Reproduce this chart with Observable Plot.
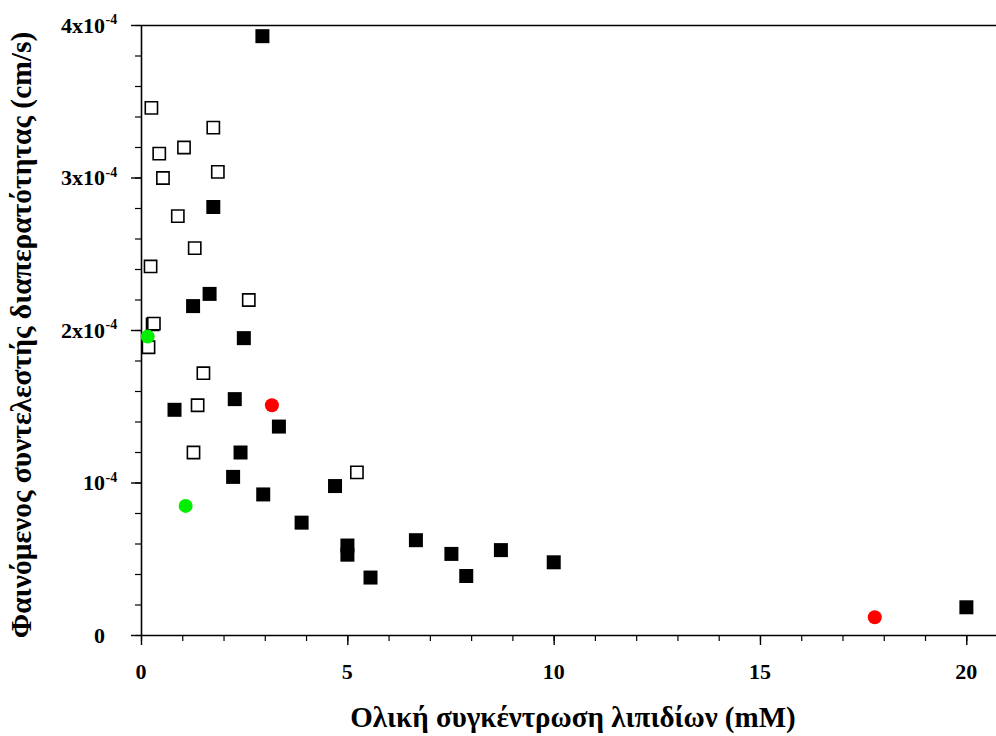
<!DOCTYPE html>
<html>
<head>
<meta charset="utf-8">
<script src="https://cdn.jsdelivr.net/npm/d3@7"></script>
<script src="https://cdn.jsdelivr.net/npm/@observablehq/plot@0.6"></script>
<style>
  html, body { margin: 0; padding: 0; background: #fff; }
  #chart svg { display: block; }
</style>
</head>
<body>
<div id="chart"></div>
<script>
// Filled squares (x: mM, y: cm/s)
const filledX = [2.93, 1.74, 1.65, 1.25, 2.48, 0.80, 2.26, 3.33, 2.40, 2.22, 2.95, 4.69, 3.88, 4.99, 4.99, 5.55, 6.65, 7.51, 7.87, 8.71, 9.99, 19.99];
const filledY = [3.93e-4, 2.81e-4, 2.24e-4, 2.16e-4, 1.95e-4, 1.48e-4, 1.55e-4, 1.37e-4, 1.20e-4, 1.04e-4, 0.925e-4, 0.98e-4, 0.74e-4, 0.59e-4, 0.53e-4, 0.38e-4, 0.625e-4, 0.535e-4, 0.39e-4, 0.56e-4, 0.48e-4, 0.185e-4];
// Open squares
const openX = [0.24, 1.74, 1.03, 0.43, 1.85, 0.52, 0.88, 1.29, 0.22, 2.60, 0.27, 0.30, 0.17, 1.50, 1.36, 1.26, 5.22];
const openY = [3.46e-4, 3.33e-4, 3.20e-4, 3.16e-4, 3.04e-4, 3.00e-4, 2.75e-4, 2.54e-4, 2.42e-4, 2.20e-4, 2.04e-4, 2.045e-4, 1.89e-4, 1.72e-4, 1.51e-4, 1.20e-4, 1.07e-4];
// Green circles
const greenX = [0.15, 1.07];
const greenY = [1.96e-4, 0.85e-4];
// Red circles
const redX = [3.16, 17.77];
const redY = [1.51e-4, 0.12e-4];

const xMajor = [0, 5, 10, 15, 20];
const xMinor = d3.range(0, 21, 1);
const yMajor = [0, 1e-4, 2e-4, 3e-4, 4e-4];
const yMinor = d3.range(0, 21).map(i => i * 0.2e-4);
const yTickBase = ["0", "10", "2x10", "3x10", "4x10"];
const yTickSup = ["", "-4", "-4", "-4", "-4"];
const xTitle = "Ολική συγκέντρωση λιπιδίων (mM)";
const yTitle = "Φαινόμενος συντελεστής διαπερατότητας (cm/s)";

const zip = (xs, ys) => xs.map((x, i) => ({x, y: ys[i]}));
const filled = zip(filledX, filledY);
const open = zip(openX, openY);
const green = zip(greenX, greenY);
const red = zip(redX, redY);

const FONT = "'Liberation Serif', 'Times New Roman', serif";
const W = 996, H = 736, ML = 141, MR = 0, MT = 25, MB = 101;
const PW = W - ML - MR, PH = H - MT - MB;

const chart = Plot.plot({
  width: W,
  height: H,
  marginLeft: ML,
  marginRight: MR,
  marginTop: MT,
  marginBottom: MB,
  style: {fontFamily: FONT, background: "white"},
  x: {domain: [0, 20.72], axis: null},
  y: {domain: [0, 4e-4], axis: null},
  marks: [
    // minor & major ticks (x, below the axis)
    Plot.ruleX(xMinor, {x: d => d, insetTop: PH, insetBottom: -6, stroke: "black", strokeWidth: 1.2}),
    Plot.ruleX(xMajor, {x: d => d, insetTop: PH, insetBottom: -10, stroke: "black", strokeWidth: 1.4}),
    // minor & major ticks (y, left of the axis)
    Plot.ruleY(yMinor, {y: d => d, insetRight: PW, insetLeft: -6, stroke: "black", strokeWidth: 1.2}),
    Plot.ruleY(yMajor, {y: d => d, insetRight: PW, insetLeft: -10, stroke: "black", strokeWidth: 1.4}),
    Plot.ruleY([0], {stroke: "black", strokeWidth: 1.6}),
    Plot.ruleY([4e-4], {stroke: "black", strokeWidth: 1.6}),
    Plot.ruleX([0], {stroke: "black", strokeWidth: 1.6}),
    Plot.dot(open, {x: "x", y: "y", symbol: "square", r: 6.9, fill: "white", stroke: "black", strokeWidth: 1.6}),
    Plot.dot(filled, {x: "x", y: "y", symbol: "square", r: 7.9, fill: "black", stroke: "none"}),
    Plot.dot(green, {x: "x", y: "y", r: 7, fill: "#00ee00", stroke: "none"}),
    Plot.dot(red, {x: "x", y: "y", r: 7, fill: "#ff0000", stroke: "none"})
  ]
});

const svg = d3.select(chart);
const xs = chart.scale("x"), ys = chart.scale("y");

// X tick labels
xMajor.forEach(v => {
  svg.append("text")
    .attr("x", xs.apply(v)).attr("y", 679)
    .attr("text-anchor", "middle")
    .attr("font-family", FONT).attr("font-weight", "bold").attr("font-size", 22)
    .attr("fill", "black")
    .text(String(v));
});

// Y tick labels with superscripts
yMajor.forEach((v, i) => {
  const py = ys.apply(v);
  svg.append("text")
    .attr("x", 105).attr("y", py + 7.5)
    .attr("text-anchor", "end")
    .attr("font-family", FONT).attr("font-weight", "bold").attr("font-size", 22)
    .attr("fill", "black")
    .text(yTickBase[i]);
  if (yTickSup[i]) {
    svg.append("text")
      .attr("x", 105.5).attr("y", py - 1)
      .attr("text-anchor", "start")
      .attr("font-family", FONT).attr("font-weight", "bold").attr("font-size", 14)
      .attr("fill", "black")
      .text(yTickSup[i]);
  }
});

// Axis titles
svg.append("text")
  .attr("x", 573).attr("y", 727)
  .attr("text-anchor", "middle")
  .attr("font-family", FONT).attr("font-weight", "bold").attr("font-size", 29)
  .attr("fill", "black")
  .text(xTitle);

svg.append("text")
  .attr("transform", "translate(31,335) rotate(-90)")
  .attr("text-anchor", "middle")
  .attr("font-family", FONT).attr("font-weight", "bold").attr("font-size", 29.5)
  .attr("fill", "black")
  .text(yTitle);

document.getElementById("chart").appendChild(chart);
</script>
</body>
</html>
